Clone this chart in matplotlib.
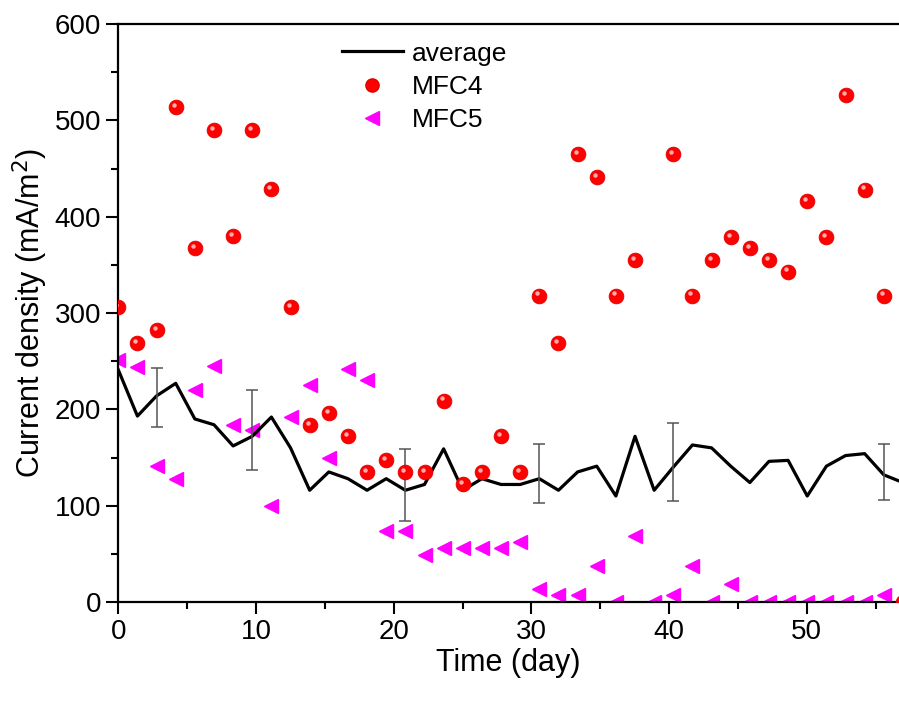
import numpy as np
import matplotlib
matplotlib.use("Agg")
import matplotlib.pyplot as plt
from matplotlib.ticker import MultipleLocator
from matplotlib.transforms import ScaledTranslation
from matplotlib.lines import Line2D

plt.rcParams['font.family'] = ['Liberation Sans', 'DejaVu Sans']

days = [0.00, 1.39, 2.78, 4.17, 5.56, 6.95, 8.34, 9.73, 11.12, 12.51,
        13.90, 15.29, 16.68, 18.07, 19.46, 20.85, 22.24, 23.63, 25.02, 26.41,
        27.80, 29.19, 30.58, 31.97, 33.36, 34.75, 36.14, 37.53, 38.92, 40.31,
        41.70, 43.09, 44.48, 45.87, 47.26, 48.65, 50.04, 51.43, 52.82, 54.21,
        55.60, 56.99]

mfc4 = [306, 269, 282, 514, 367, 490, 380, 490, 429, 306,
        184, 196, 172, 135, 147, 135, 135, 209, 122, 135,
        172, 135, 318, 269, 465, 441, 318, 355, np.nan, 465,
        318, 355, 379, 367, 355, 343, 416, 379, 526, 428,
        318, 0]

mfc5 = [251, 244, 141, 128, 220, 245, 184, 179, 100, 192,
        225, 150, 242, 230, 74, 74, 49, 56, 56, 56,
        56, 62, 13, 7, 7, 37, 0, 68, 0, 7,
        37, 0, 19, 0, 0, 0, 0, 0, 0, 0,
        7, np.nan]

average = [241, 193, 214, 227, 190, 184, 162, 172, 192, 160,
           116, 135, 128, 116, 128, 116, 122, 159, 116, 128,
           122, 122, 128, 116, 135, 141, 110, 172, 116, 140,
           163, 160, 141, 124, 146, 147, 110, 141, 152, 154,
           132, 124]

err_index = [2, 7, 15, 22, 29, 40]
err_low = [182, 137, 84.5, 102.5, 105, 106]
err_high = [243, 220, 158.5, 163.7, 186, 163.7]

days = np.array(days)
mfc4 = np.array(mfc4, dtype=float)
mfc5 = np.array(mfc5, dtype=float)
average = np.array(average, dtype=float)

fig = plt.figure(figsize=(8.99, 7.02), dpi=100)
ax = fig.add_axes([118.3 / 899, 100 / 702, (899 - 118.3) / 899, (602 - 24) / 702])

# MFC5 triangles
ax.plot(days, mfc5, linestyle='none', marker='<', markersize=10.5,
        color='#ff00ff', markeredgecolor='#ff00ff', zorder=2, clip_on=True)

# average line
ax.plot(days, average, color='black', linewidth=2.3, zorder=3, clip_on=True)
ei = np.array(err_index)
ey = average[ei]
ax.errorbar(days[ei], ey, yerr=[ey - np.array(err_low), np.array(err_high) - ey],
            fmt='none', ecolor='#555555', elinewidth=1.1, capsize=4, capthick=1.1,
            zorder=3.5)

# MFC4 spheres
ax.plot(days, mfc4, linestyle='none', marker='o', markersize=10.6,
        color='#ff0000', markeredgecolor='#e00000', markeredgewidth=0.6, zorder=4)
hl = ax.transData + ScaledTranslation(-2 / 100, 2.2 / 100, fig.dpi_scale_trans)
ax.plot(days, mfc4, linestyle='none', marker='o', markersize=3.2,
        color='#ffc0c0', markeredgewidth=0, alpha=0.9, zorder=4.5, transform=hl)

ax.set_xlim(0, (899 - 118.3) / 13.768)
ax.set_ylim(0, 600)
ax.xaxis.set_major_locator(MultipleLocator(10))
ax.xaxis.set_minor_locator(MultipleLocator(5))
ax.yaxis.set_major_locator(MultipleLocator(100))
ax.yaxis.set_minor_locator(MultipleLocator(50))

for s in ['left', 'bottom', 'top']:
    ax.spines[s].set_linewidth(1.6)
ax.spines['right'].set_visible(False)
ax.tick_params(which='major', direction='out', length=8.5, width=1.5,
               labelsize=20, pad=4, top=False, right=False)
ax.tick_params(which='minor', direction='out', length=5, width=1.5,
               top=False, right=False)

ax.set_xlabel('Time (day)', fontsize=22, labelpad=2)
ax.set_ylabel('Current density (mA/m$^2$)', fontsize=22, labelpad=3)

handles = [
    Line2D([], [], color='black', linewidth=2.3),
    Line2D([], [], linestyle='none', marker='o', markersize=9.5, color='#ff0000',
           markeredgecolor='#e00000'),
    Line2D([], [], linestyle='none', marker='<', markersize=9.5, color='#ff00ff'),
]
ax.legend(handles, ['average', 'MFC4', 'MFC5'], loc='upper left',
          bbox_to_anchor=(0.2866, 0.9696), frameon=False, fontsize=19,
          handlelength=2.3, handletextpad=0.35, labelspacing=0.35,
          borderpad=0, borderaxespad=0)

fig.savefig('out.png', dpi=100)
